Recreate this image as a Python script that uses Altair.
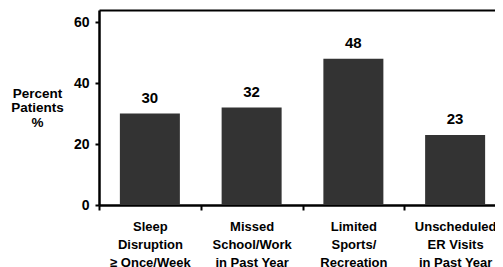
import altair as alt
import pandas as pd

categories = [
    "Sleep\nDisruption\n≥ Once/Week",
    "Missed\nSchool/Work\nin Past Year",
    "Limited\nSports/\nRecreation",
    "Unscheduled\nER Visits\nin Past Year",
]
values = [30, 32, 48, 23]
y_ticks = [0, 20, 40, 60]

df = pd.DataFrame({"cat": categories, "val": values})

FONT = "Liberation Sans"

x_scale = alt.Scale(paddingInner=0, paddingOuter=0)
y_scale = alt.Scale(domain=[0, 64], nice=False)

bars = alt.Chart(df).mark_bar(size=60, color="#333333").encode(
    x=alt.X("cat:N", sort=categories, scale=x_scale,
            axis=alt.Axis(title=None, labelAngle=0, tickBand="extent",
                          labelExpr="split(datum.label, '\\n')",
                          domainColor="black", domainWidth=2.5,
                          tickColor="black", tickWidth=2, tickSize=5,
                          labelFont=FONT, labelFontWeight="bold", labelFontSize=13,
                          labelColor="black", labelPadding=10, labelLineHeight=18,
                          labelBaseline="top")),
    y=alt.Y("val:Q", scale=y_scale,
            axis=alt.Axis(values=y_ticks, grid=False, title=["Percent", "Patients", "%"],
                          titleAngle=0, titleX=-62, titleY=87, titleAlign="center",
                          titleBaseline="alphabetic", titleFont=FONT, titleFontWeight="bold",
                          titleFontSize=13.5, titleColor="black", titleLineHeight=14.5,
                          domainColor="black", domainWidth=2.5,
                          tickColor="black", tickWidth=2, tickSize=4,
                          labelFont=FONT, labelFontWeight="bold", labelFontSize=14,
                          labelColor="black", labelPadding=6)),
)

text = alt.Chart(df).mark_text(font=FONT, fontWeight="bold", fontSize=15,
                               color="black", dy=-11, baseline="alphabetic").encode(
    x=alt.X("cat:N", sort=categories, scale=x_scale,
            axis=alt.Axis(orient="top", title=None, labels=False, ticks=False,
                          domainColor="black", domainWidth=2)),
    y=alt.Y("val:Q", scale=y_scale),
    text="val:Q",
)

chart = alt.layer(bars, text).resolve_axis(x="independent").properties(
    width=407, height=195,
    autosize=alt.AutoSizeParams(type="none"),
    padding={"left": 91, "top": 2, "right": -11, "bottom": 66},
).configure_view(stroke=None)

chart.save("out.html", embed_options={"renderer": "svg", "actions": False})
